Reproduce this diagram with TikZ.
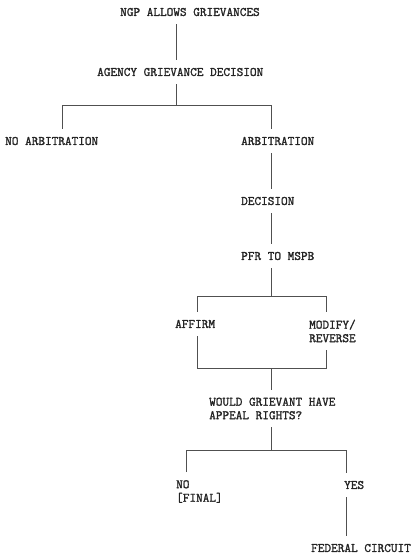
\documentclass[tikz,border=0pt]{standalone}
\usepackage{fontspec}
\newfontfamily\scanfont{Latin Modern Mono}[FakeBold=1.5]
\usepackage{tikz}
\definecolor{ScanInk}{RGB}{35,35,35}
\definecolor{ScanLine}{RGB}{80,80,80}

\begin{document}
\begin{tikzpicture}[
    x=1pt, y=-1pt,
    stage/.style={anchor=west, inner sep=0pt, outer ysep=8pt, align=left, font=\fontsize{12.9}{13.5}\selectfont\scanfont, text=ScanInk},
    link/.style={draw=ScanLine, line width=0.6pt}
  ]
    \useasboundingbox (0,0) rectangle (411,557);
    \node[stage] (ngp) at (120,12) {NGP ALLOWS GRIEVANCES};
    \node[stage] (agency) at (97,72) {AGENCY GRIEVANCE DECISION};
    \node[stage] (noarb) at (5,141) {NO ARBITRATION};
    \node[stage] (arb) at (241,141) {ARBITRATION};
    \node[stage] (dec) at (241,201) {DECISION};
    \node[stage] (pfr) at (241,256) {PFR TO MSPB};
    \node[stage] (affirm) at (175,324) {AFFIRM};
    \node[stage] (modify) at (309,331) {MODIFY/\\REVERSE};
    \node[stage] (would) at (209,408.5) {WOULD GRIEVANT HAVE\\APPEAL RIGHTS?};
    \node[stage] (no) at (176,491.5) {NO\\{[FINAL]}};
    \node[stage] (yes) at (344,485) {YES};
    \node[stage] (fed) at (311,548) {FEDERAL CIRCUIT};
    \coordinate (b1l) at (62,105);
    \coordinate (b1m) at (176,105);
    \coordinate (b1r) at (271,105);
    \coordinate (b2l) at (197,296);
    \coordinate (b2r) at (326,296);
    \coordinate (b3l) at (197,368);
    \coordinate (b3r) at (326,368);
    \coordinate (b4l) at (186,450);
    \coordinate (b4r) at (346,450);
    \draw[link] (ngp.south -| b1m) -- (agency.north -| b1m);
    \draw[link] (agency.south -| b1m) -- (b1m);
    \draw[link] (noarb.north -| b1l) -- (b1l) -- (b1r) -- (arb.north -| b1r);
    \foreach \a/\b in {arb/dec,dec/pfr} {\draw[link] (\a.south -| b1r) -- (\b.north -| b1r);}
    \draw[link] (pfr.south -| b1r) -- (b1r |- b2l);
    \draw[link] (affirm.north -| b2l) -- (b2l) -- (b2r) -- (modify.north -| b2r);
    \draw[link] (affirm.south -| b3l) -- (b3l) -- (b3r) -- (modify.south -| b3r);
    \draw[link] (b1r |- b3l) -- (would.north -| b1r);
    \draw[link] (would.south -| b1r) -- (b1r |- b4l);
    \draw[link] (no.north -| b4l) -- (b4l) -- (b4r) -- (yes.north -| b4r);
    \draw[link] (yes.south -| b4r) -- (fed.north -| b4r);
  \end{tikzpicture}
\end{document}
